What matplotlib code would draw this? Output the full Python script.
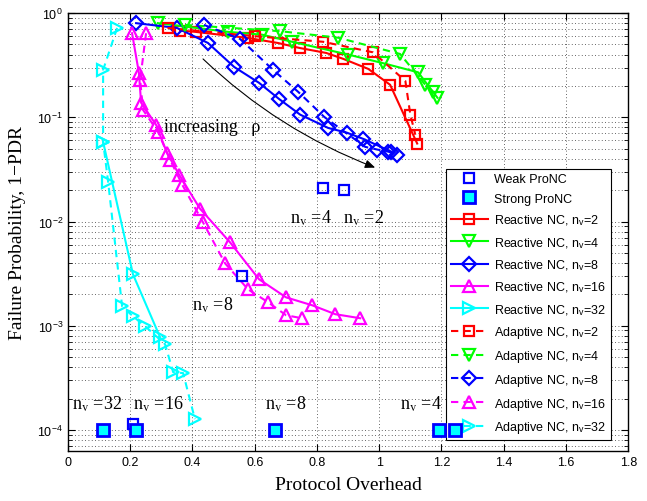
import matplotlib
matplotlib.use("Agg")
import matplotlib.pyplot as plt
from matplotlib.patches import FancyArrowPatch
from matplotlib.ticker import LogLocator, NullFormatter, MultipleLocator

plt.rcParams['font.family'] = ['Liberation Sans', 'DejaVu Sans']
plt.rcParams['mathtext.fontset'] = 'stix'

# ---------------- data ----------------
rx2_x = [0.36, 0.41, 0.58, 0.675, 0.745, 0.83, 0.885, 0.965, 1.035, 1.122]
rx2_y = [0.68, 0.66, 0.576, 0.516, 0.462, 0.414, 0.363, 0.291, 0.205, 0.056]
ad2_x = [0.32, 0.60, 0.82, 0.98, 1.084, 1.10, 1.116]
ad2_y = [0.72, 0.60, 0.53, 0.42, 0.223, 0.106, 0.068]

rx4_x = [0.289, 0.514, 0.624, 0.720, 0.900, 1.013, 1.125, 1.187]
rx4_y = [0.80, 0.66, 0.62, 0.53, 0.40, 0.33, 0.27, 0.154]
ad4_x = [0.376, 0.682, 0.868, 1.067, 1.148, 1.174]
ad4_y = [0.77, 0.67, 0.58, 0.405, 0.205, 0.175]

rx8_x = [0.219, 0.350, 0.450, 0.534, 0.614, 0.678, 0.746, 0.836, 0.897, 0.949, 1.039]
rx8_y = [0.80, 0.72, 0.516, 0.304, 0.214, 0.150, 0.106, 0.079, 0.071, 0.062, 0.0468]
ad8_x = [0.437, 0.553, 0.659, 0.740, 0.823, 0.955, 0.994, 1.029, 1.058]
ad8_y = [0.77, 0.564, 0.285, 0.175, 0.101, 0.052, 0.049, 0.0468, 0.0438]

rx16_x = [0.206, 0.228, 0.235, 0.283, 0.318, 0.357, 0.424, 0.521, 0.614, 0.701, 0.785, 0.859, 0.939]
rx16_y = [0.64, 0.267, 0.138, 0.0848, 0.0457, 0.0282, 0.0133, 0.0063, 0.00279, 0.00187, 0.00157, 0.00129, 0.00118]
ad16_x = [0.251, 0.232, 0.241, 0.289, 0.328, 0.367, 0.434, 0.505, 0.579, 0.643, 0.701, 0.752]
ad16_y = [0.64, 0.229, 0.118, 0.0727, 0.0392, 0.0226, 0.0098, 0.00396, 0.00223, 0.00168, 0.00126, 0.00118]

rx32_x = [0.113, 0.209, 0.296]
rx32_y = [0.058, 0.00311, 0.000776]
ad32_x = [0.158, 0.113, 0.113, 0.129, 0.174, 0.209, 0.248, 0.312, 0.338, 0.370, 0.408]
ad32_y = [0.72, 0.285, 0.058, 0.0242, 0.00154, 0.00123, 0.00099, 0.000665, 0.000359, 0.000351, 0.000127]

weak_x = [0.820, 0.887, 0.559, 0.209]
weak_y = [0.0211, 0.0202, 0.00298, 0.000114]
strong_x = [0.113, 0.219, 0.666, 1.193, 1.244]
strong_y = [1e-4, 1e-4, 1e-4, 1e-4, 1e-4]

nv_values = [2, 4, 8, 16, 32]
colors = ['#ff0000', '#00ff00', '#0000ff', '#ff00ff', '#00ffff']
markers = ['s', 'v', 'D', '^', '>']
msizes = [7, 9, 7, 9, 9]

reactive = [(rx2_x, rx2_y), (rx4_x, rx4_y), (rx8_x, rx8_y), (rx16_x, rx16_y), (rx32_x, rx32_y)]
adaptive = [(ad2_x, ad2_y), (ad4_x, ad4_y), (ad8_x, ad8_y), (ad16_x, ad16_y), (ad32_x, ad32_y)]

# ---------------- figure ----------------
fig = plt.figure(figsize=(6.47, 5.02), dpi=100)
ax = fig.add_axes([0.105, 0.1, 0.866, 0.872])

h_weak, = ax.plot(weak_x, weak_y, linestyle='none', marker='s', ms=7, mfc='none',
                  mec='#0000ff', mew=1.6, label='Weak ProNC', zorder=5)
h_strong, = ax.plot(strong_x, strong_y, linestyle='none', marker='s', ms=8, mfc='#00ffff',
                    mec='#0000ff', mew=2.0, label='Strong ProNC', zorder=6)

handles = [h_weak, h_strong]
for (x, y), nv, c, m, s in zip(reactive, nv_values, colors, markers, msizes):
    h, = ax.plot(x, y, '-', color=c, lw=1.5, marker=m, ms=s, mfc='none', mec=c, mew=1.6,
                 label=r'Reactive NC, n$_\mathregular{v}$=%d' % nv)
    handles.append(h)
for (x, y), nv, c, m, s in zip(adaptive, nv_values, colors, markers, msizes):
    h, = ax.plot(x, y, '--', color=c, lw=1.5, marker=m, ms=s, mfc='none', mec=c, mew=1.6,
                 dashes=(3.5, 2.5),
                 label=r'Adaptive NC, n$_\mathregular{v}$=%d' % nv)
    handles.append(h)

ax.set_yscale('log')
ax.set_xlim(0, 1.8)
ax.set_ylim(10 ** -4.2, 1)
ax.set_xticks([0, 0.2, 0.4, 0.6, 0.8, 1.0, 1.2, 1.4, 1.6, 1.8])
ax.set_xticklabels(['0', '0.2', '0.4', '0.6', '0.8', '1', '1.2', '1.4', '1.6', '1.8'])
ax.yaxis.set_major_locator(LogLocator(base=10, numticks=10))
ax.yaxis.set_minor_locator(LogLocator(base=10, subs=range(2, 10), numticks=20))
ax.yaxis.set_minor_formatter(NullFormatter())

ax.grid(True, which='major', linestyle=(0, (1, 3)), color='#333333', lw=0.6)
ax.grid(True, which='minor', axis='y', linestyle=(0, (1, 3)), color='#333333', lw=0.6)
ax.tick_params(which='both', direction='in', top=True, right=True, labelsize=9)
ax.tick_params(which='major', length=5)
ax.tick_params(which='minor', length=3)
for sp in ax.spines.values():
    sp.set_linewidth(1.0)

serif = ['Liberation Serif', 'DejaVu Serif']
ax.set_xlabel('Protocol Overhead', family=serif, fontsize=14, labelpad=6)
ax.set_ylabel('Failure Probability, 1\u2212PDR', family=serif, fontsize=14, labelpad=8)

# annotations
def nvtext(x, y, n):
    ax.text(x, y, r'n$_\mathrm{v}$ =%s' % n, family=serif, fontsize=13, ha='left', va='baseline')

nvtext(0.715, 0.0097, '4')
nvtext(0.885, 0.0097, '2')
nvtext(0.40, 0.00143, '8')
nvtext(0.012, 1.62e-4, '32')
nvtext(0.21, 1.62e-4, '16')
nvtext(0.632, 1.62e-4, '8')
nvtext(1.067, 1.62e-4, '4')

ax.text(0.31, 0.074, 'increasing   \u03c1', family=serif, fontsize=13, ha='left', va='baseline')
arr = FancyArrowPatch((0.434, 0.363), (0.987, 0.0329), connectionstyle='arc3,rad=0.1',
                      arrowstyle='-|>,head_length=6,head_width=2.5', color='k', lw=0.8,
                      shrinkA=0, shrinkB=0, zorder=7)
ax.add_patch(arr)

leg = ax.legend(handles=handles, loc='lower right', bbox_to_anchor=(0.98, 0.011),
                fontsize=9, frameon=True, fancybox=False, edgecolor='k', framealpha=1,
                handlelength=3.0, labelspacing=0.62, borderpad=0.35, handletextpad=0.5)
leg.get_frame().set_linewidth(0.8)

fig.savefig('out.png', dpi=100)
